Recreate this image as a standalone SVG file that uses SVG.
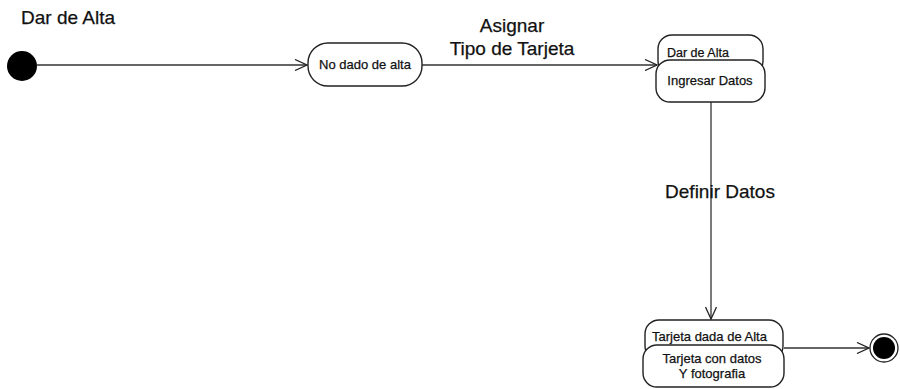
<svg xmlns="http://www.w3.org/2000/svg" width="900" height="389" viewBox="0 0 900 389">
  <style>
    .lbl { font-family: "Liberation Sans", Arial, sans-serif; fill: #111; stroke: #111; stroke-width: 0.25; }
    .big { font-size: 19px; }
    .st { font-size: 13px; }
    .box { fill: #fff; stroke: #222; stroke-width: 1.4; }
    .edge { fill: none; stroke: #333; stroke-width: 1.3; }
  </style>
  <defs>
    <marker id="open" viewBox="0 0 14 12" refX="13" refY="6" markerWidth="14" markerHeight="12" markerUnits="userSpaceOnUse" orient="auto">
      <path d="M1,0.5 L13,6 L1,11.5" fill="none" stroke="#222" stroke-width="1.3"/>
    </marker>
  </defs>
  <rect width="900" height="389" fill="#fff"/>

  <text class="lbl big" x="21" y="24">Dar de Alta</text>

  <g id="connectors">
    <line class="edge" x1="37" y1="65" x2="307" y2="65" marker-end="url(#open)"/>
    <line class="edge" x1="422" y1="65" x2="657" y2="65" marker-end="url(#open)"/>
    <text class="lbl big" x="512" y="32" text-anchor="middle">Asignar</text>
    <text class="lbl big" x="512" y="55" text-anchor="middle">Tipo de Tarjeta</text>
    <line class="edge" x1="711" y1="102" x2="711" y2="319" marker-end="url(#open)"/>
    <text class="lbl big" x="720" y="198" text-anchor="middle">Definir Datos</text>
    <line class="edge" x1="784" y1="348" x2="869" y2="348" marker-end="url(#open)"/>
  </g>

  <g id="initial">
    <circle cx="22" cy="66" r="15" fill="#000"/>
  </g>

  <g id="no-dado">
    <rect class="box" x="308" y="43" width="114" height="43" rx="20"/>
    <text class="lbl st" x="365" y="68.5" text-anchor="middle">No dado de alta</text>
  </g>

  <g id="dar-de-alta">
    <rect class="box" x="658" y="35" width="105" height="40" rx="14"/>
    <text class="lbl" x="667" y="57" font-size="12.5">Dar de Alta</text>
    <rect class="box" x="656" y="60" width="109" height="42" rx="14"/>
    <text class="lbl st" x="710" y="85" text-anchor="middle">Ingresar Datos</text>
  </g>

  <g id="tarjeta-dada">
    <rect class="box" x="645" y="320" width="138" height="40" rx="14"/>
    <text class="lbl st" x="652" y="341">Tarjeta dada de Alta</text>
    <rect class="box" x="643" y="345" width="141" height="42" rx="14"/>
    <text class="lbl st" x="712" y="363" text-anchor="middle">Tarjeta con datos</text>
    <text class="lbl st" x="712" y="378" text-anchor="middle">Y fotografia</text>
  </g>

  <g id="final">
    <circle cx="884" cy="348" r="14" fill="#fff" stroke="#222" stroke-width="1.3"/>
    <circle cx="884" cy="348" r="11" fill="#000"/>
  </g>
</svg>
